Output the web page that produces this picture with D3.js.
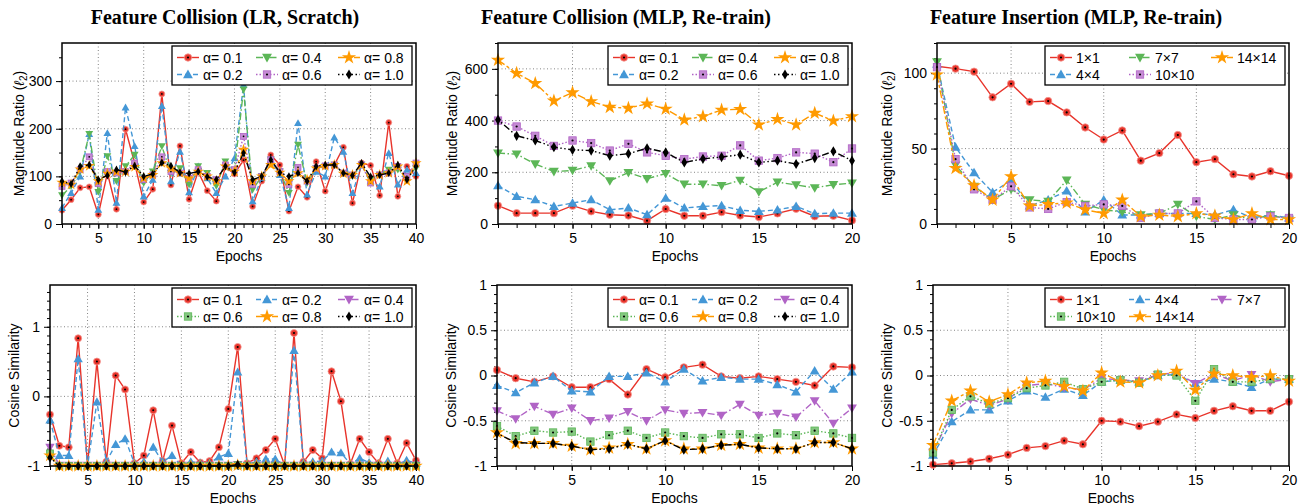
<!DOCTYPE html>
<html><head><meta charset="utf-8">
<script src="https://cdn.jsdelivr.net/npm/d3@7"></script>
<style>body{margin:0;background:#fff}</style>
</head><body>
<svg id="c" width="1306" height="504"></svg>
<script>
// ---------------- DATA ----------------
const epochs40 = d3.range(1, 41);
const epochs20 = d3.range(1, 21);
const alphaLabels = ["α= 0.1","α= 0.2","α= 0.4","α= 0.6","α= 0.8","α= 1.0"];
const patchLabels = ["1×1","4×4","7×7","10×10","14×14"];
const titles = ["Feature Collision (LR, Scratch)","Feature Collision (MLP, Re-train)","Feature Insertion (MLP, Re-train)"];
const xLabel = "Epochs";
const yLabelCos = "Cosine Similarity";

// Top-left: magnitude ratio, LR scratch
const lrMag01 = [29,51,76,78,20,107,31,199,128,46,73,273,82,164,52,110,70,48,120,105,134,37,90,145,124,27,78,56,131,69,124,161,44,128,123,60,213,58,121,100];
const lrMag02 = [34,65,100,189,30,191,45,245,164,58,93,248,90,152,67,121,96,65,100,138,292,48,97,135,103,34,212,62,110,100,182,152,65,124,90,79,149,83,114,107];
const lrMag04 = [60,79,110,189,67,142,90,121,145,86,110,163,107,117,83,121,107,80,131,114,282,72,100,135,110,65,166,86,117,121,124,107,100,124,93,103,114,114,100,117];
const lrMag06 = [79,86,114,141,85,110,107,110,128,93,103,141,110,107,96,114,100,93,124,114,184,83,100,135,110,83,119,90,117,122,124,107,103,124,86,103,107,121,100,128];
const lrMag08 = [87,83,115,122,90,106,110,110,120,96,103,128,117,107,96,110,100,90,121,110,156,90,100,124,108,90,107,93,117,122,124,106,103,124,90,103,107,121,90,128];
const lrMag10 = [90,84,121,124,93,102,114,109,122,100,105,129,122,108,106,110,99,93,121,108,149,93,100,135,108,100,107,90,121,124,124,107,102,128,99,103,107,124,93,121];

// Top-middle: magnitude ratio, MLP re-train
const mlpMag01 = [71,42,42,42,71,49,36,33,13,58,32,32,46,33,27,41,59,30,32,14];
const mlpMag02 = [148,107,94,68,81,94,55,62,36,100,62,68,71,53,49,55,68,40,42,42];
const mlpMag04 = [274,270,232,203,207,225,167,199,175,195,154,154,148,169,124,162,151,140,152,158];
const mlpMag06 = [400,377,341,302,323,313,284,310,277,264,251,261,264,304,245,255,277,272,239,292];
const mlpMag08 = [634,583,544,476,508,474,452,448,465,445,403,416,441,444,384,405,384,429,399,416];
const mlpMag10 = [403,341,323,297,287,284,264,272,293,277,238,252,259,268,238,245,232,255,281,245];

// Top-right: magnitude ratio, insertion
const insMag1  = [104.6,103,101,84,93,81,81.5,74,64,56,62,42,47,59,41,43,33,31.5,35,32];
const insMag4  = [106,51,34,21,29,12,16,22,8,16,6,6,7,7,7,6,9.5,4,6,4];
const insMag7  = [107.5,39,25,16,23,16,15,29,13,9.5,8,6,7,13,5,3,6,3,6,3];
const insMag10 = [104,43,23,16,25,11,10,14.5,12,13,12,4,7,7,15,4,3,3,5,4];
const insMag14 = [99,37,25.5,16,31.5,12,13,14,9.5,7,16,5,6,5,7,5.5,3,7,3,3];

// Bottom-left: cosine similarity, LR scratch
const lrCos01 = [-0.26,-0.71,-0.73,0.835,-0.99,0.50,-0.94,0.30,0.10,-0.96,-0.85,-0.20,-0.93,-0.42,-0.96,-0.80,-0.95,-0.93,-0.73,-0.18,0.71,-0.96,-0.89,-0.77,-0.61,-0.99,0.91,-0.94,-0.77,-0.89,0.36,-0.07,-0.97,-0.61,-0.80,-0.96,-0.61,-0.96,-0.67,-0.92];
const lrCos02 = [-0.34,-0.85,-0.85,0.54,-1,-0.08,-0.94,-0.69,-0.61,-0.96,-0.94,-0.73,-0.94,-0.85,-0.99,-0.94,-0.96,-0.96,-0.87,-0.82,0.35,-0.97,-0.94,-0.90,-0.90,-0.99,0.66,-0.95,-0.94,-0.93,-0.80,-0.81,-0.97,-0.89,-0.95,-0.97,-0.93,-0.98,-0.92,-0.96];
const lrCos04 = [-0.73,-0.99,-0.99,-0.99,-0.99,-0.99,-0.99,-0.99,-0.99,-0.99,-0.99,-0.99,-0.99,-0.99,-0.99,-0.99,-0.99,-0.99,-0.99,-0.99,-0.98,-0.99,-0.99,-0.99,-0.99,-0.99,-0.99,-0.99,-0.99,-0.99,-0.99,-0.99,-0.99,-0.99,-0.99,-0.99,-0.99,-0.99,-0.99,-0.99];
const lrCos06 = [-0.82,-1,-1,-1,-1,-1,-1,-1,-1,-1,-1,-1,-1,-1,-1,-1,-1,-1,-1,-1,-0.99,-1,-1,-1,-1,-1,-1,-1,-1,-1,-1,-1,-1,-1,-1,-1,-1,-1,-1,-1];
const lrCos08 = [-0.85,-1,-1,-1,-1,-1,-1,-1,-1,-1,-1,-1,-1,-1,-1,-1,-1,-1,-1,-1,-0.99,-1,-1,-1,-1,-1,-1,-1,-1,-1,-1,-1,-1,-1,-1,-1,-1,-1,-1,-1];
const lrCos10 = [-0.88,-1,-1,-1,-1,-1,-1,-1,-1,-1,-1,-1,-1,-1,-1,-1,-1,-1,-1,-1,-0.98,-1,-1,-1,-1,-1,-1,-1,-1,-1,-1,-1,-1,-1,-1,-1,-1,-1,-1,-1];

// Bottom-middle: cosine similarity, MLP re-train
const mlpCos01 = [0.06,-0.03,-0.07,-0.01,-0.13,-0.13,-0.04,-0.21,0.07,-0.02,0.09,0.12,-0.01,-0.03,-0.01,-0.04,-0.07,-0.11,0.10,0.09];
const mlpCos02 = [-0.11,-0.19,-0.08,-0.01,-0.17,-0.18,-0.01,-0.01,0.03,-0.07,0.07,-0.06,-0.02,-0.04,-0.04,-0.10,-0.18,0.05,-0.15,0.04];
const mlpCos04 = [-0.39,-0.48,-0.34,-0.43,-0.36,-0.50,-0.47,-0.40,-0.50,-0.38,-0.42,-0.41,-0.44,-0.32,-0.44,-0.42,-0.46,-0.28,-0.53,-0.36];
const mlpCos06 = [-0.56,-0.67,-0.61,-0.63,-0.62,-0.73,-0.66,-0.61,-0.69,-0.63,-0.67,-0.69,-0.65,-0.65,-0.69,-0.64,-0.66,-0.61,-0.64,-0.69];
const mlpCos08 = [-0.63,-0.75,-0.75,-0.75,-0.78,-0.82,-0.80,-0.76,-0.81,-0.72,-0.81,-0.81,-0.77,-0.76,-0.80,-0.81,-0.81,-0.74,-0.74,-0.81];
const mlpCos10 = [-0.64,-0.74,-0.75,-0.75,-0.78,-0.82,-0.81,-0.76,-0.81,-0.72,-0.82,-0.81,-0.77,-0.76,-0.80,-0.81,-0.81,-0.74,-0.74,-0.81];

// Bottom-right: cosine similarity, insertion
const insCos1  = [-0.985,-0.97,-0.95,-0.92,-0.875,-0.80,-0.78,-0.72,-0.76,-0.50,-0.51,-0.56,-0.51,-0.43,-0.47,-0.39,-0.34,-0.39,-0.39,-0.29];
const insCos4  = [-0.88,-0.51,-0.38,-0.38,-0.28,-0.17,-0.24,-0.15,-0.22,-0.07,-0.05,-0.07,0,0.01,-0.09,-0.04,-0.07,-0.13,-0.04,-0.04];
const insCos7  = [-0.85,-0.42,-0.26,-0.33,-0.26,-0.11,-0.09,-0.13,-0.16,-0.03,-0.05,-0.06,0.01,0.03,-0.09,0.02,-0.06,0.01,-0.07,-0.04];
const insCos10 = [-0.85,-0.38,-0.23,-0.31,-0.25,-0.14,-0.11,-0.07,-0.15,-0.07,-0.05,-0.08,0.01,0,-0.28,0.07,-0.07,-0.07,-0.04,-0.04];
const insCos14 = [-0.77,-0.28,-0.17,-0.29,-0.21,-0.08,-0.06,-0.12,-0.17,0.03,-0.07,-0.08,0,0.05,-0.16,0.02,0,-0.02,0,-0.06];

// tick values
const xMajor40 = [5,10,15,20,25,30,35,40];
const xMajor20 = [5,10,15,20];
const yTicksLrMag = [0,100,200,300];
const yTicksMlpMag = [0,200,400,600];
const yTicksInsMag = [0,50,100];
const yTicksLrCos = [-1,0,1];
const yTicksCos = [-1,-0.5,0,0.5,1];

// ---------------- STYLE ----------------
const FONT = "'Liberation Sans', Arial, Helvetica, sans-serif";
const COL = {red:"#e8342b", blue:"#4497d6", green:"#5cb657", purple:"#b164c6", orange:"#ff9a00", black:"#000000"};
const LS = {
  circle:  null,
  triangle:"5,3",
  tdown:   "7,2.5,1.5,2.5",
  square:  "1.5,2",
  star:    "8,2.5,3,2.5",
  diamond: "1.5,2.5,1.5,2.5,7,2.5"
};
const sTop = [
  {c:COL.red,m:"circle"},{c:COL.blue,m:"triangle"},{c:COL.green,m:"tdown"},
  {c:COL.purple,m:"square"},{c:COL.orange,m:"star"},{c:COL.black,m:"diamond"}];
const sBot = [
  {c:COL.red,m:"circle"},{c:COL.blue,m:"triangle"},{c:COL.purple,m:"tdown"},
  {c:COL.green,m:"square"},{c:COL.orange,m:"star"},{c:COL.black,m:"diamond"}];

const svg = d3.select("#c");

function marker(g, kind, color, x, y, s) {
  if (kind === "circle") {
    g.append("circle").attr("cx",x).attr("cy",y).attr("r",3.7*s).attr("fill",color).attr("stroke","#f59a94").attr("stroke-width",0.8);
    g.append("circle").attr("cx",x).attr("cy",y).attr("r",1.1*s).attr("fill","#000");
  } else if (kind === "triangle") {
    g.append("path").attr("d",d3.symbol(d3.symbolTriangle, 42*s*s)()).attr("transform",`translate(${x},${y+0.8})`).attr("fill",color);
  } else if (kind === "tdown") {
    g.append("path").attr("d",d3.symbol(d3.symbolTriangle, 42*s*s)()).attr("transform",`translate(${x},${y-0.8}) rotate(180)`).attr("fill",color);
  } else if (kind === "square") {
    const a = 7.4*s;
    const lite = d3.interpolateRgb(color, "#fff")(0.25);
    g.append("rect").attr("x",x-a/2).attr("y",y-a/2).attr("width",a).attr("height",a).attr("fill",lite).attr("stroke",color).attr("stroke-width",0.8);
    g.append("circle").attr("cx",x).attr("cy",y).attr("r",1.1*s).attr("fill","#000");
  } else if (kind === "star") {
    g.append("path").attr("d",d3.symbol(d3.symbolStar, 62*s*s)()).attr("transform",`translate(${x},${y})`).attr("fill",color);
  } else if (kind === "diamond") {
    g.append("path").attr("d",d3.symbol(d3.symbolDiamond, 30*s*s)()).attr("transform",`translate(${x},${y})`).attr("fill",color);
  }
}

const panels = [
  {x0:62,x1:416,y0:43,y1:224, xs:epochs40, xMajor:xMajor40, ydom:[0,380], yMajor:yTicksLrMag, yMinorStep:50, ylab:"mag", ylx:24,
   vals:[lrMag01,lrMag02,lrMag04,lrMag06,lrMag08,lrMag10], styles:sTop, labels:alphaLabels, order:"col", ms:0.8, title:titles[0], tx:225},
  {x0:498,x1:852,y0:43,y1:224, xs:epochs20, xMajor:xMajor20, ydom:[0,700], yMajor:yTicksMlpMag, yMinorStep:100, ylab:"mag", ylx:457,
   vals:[mlpMag01,mlpMag02,mlpMag04,mlpMag06,mlpMag08,mlpMag10], styles:sTop, labels:alphaLabels, order:"col", ms:1, title:titles[1], tx:626},
  {x0:937,x1:1289,y0:43,y1:224, xs:epochs20, xMajor:xMajor20, ydom:[0,120], yMajor:yTicksInsMag, yMinorStep:10, ylab:"mag", ylx:892,
   vals:[insMag1,insMag4,insMag7,insMag10,insMag14], styles:sTop.slice(0,5), labels:patchLabels, order:"col", ms:1, title:titles[2], tx:1076},
  {x0:50,x1:416,y0:285,y1:466, xs:epochs40, xMajor:xMajor40, ydom:[-1,1.6], yMajor:yTicksLrCos, yMinorStep:0.125, ylab:"cos", ylx:19,
   vals:[lrCos01,lrCos02,lrCos04,lrCos06,lrCos08,lrCos10], styles:sBot, labels:alphaLabels, order:"row", ms:0.95},
  {x0:497,x1:852,y0:285,y1:466, xs:epochs20, xMajor:xMajor20, ydom:[-1,1], yMajor:yTicksCos, yMinorStep:0.1, ylab:"cos", ylx:456,
   vals:[mlpCos01,mlpCos02,mlpCos04,mlpCos06,mlpCos08,mlpCos10], styles:sBot, labels:alphaLabels, order:"row", ms:1},
  {x0:933,x1:1289,y0:285,y1:466, xs:epochs20, xMajor:xMajor20, ydom:[-1,1], yMajor:yTicksCos, yMinorStep:0.1, ylab:"cos", ylx:892,
   vals:[insCos1,insCos4,insCos7,insCos10,insCos14], styles:sBot.slice(0,5), labels:patchLabels, order:"row", ms:1}
];

panels.forEach(p => {
  const x = d3.scaleLinear().domain([p.xs[0], p.xs[p.xs.length-1]]).range([p.x0, p.x1]);
  const y = d3.scaleLinear().domain(p.ydom).range([p.y1, p.y0]);
  const g = svg.append("g");

  // grid
  g.selectAll(null).data(p.xMajor.filter(v => v < x.domain()[1])).join("line")
    .attr("x1", d => x(d)).attr("x2", d => x(d)).attr("y1", p.y0).attr("y2", p.y1)
    .attr("stroke", "#777").attr("stroke-width", 0.9).attr("stroke-dasharray", "1,2.5");
  g.selectAll(null).data(p.yMajor.filter(v => v > p.ydom[0] && v < p.ydom[1])).join("line")
    .attr("x1", p.x0).attr("x2", p.x1).attr("y1", d => y(d)).attr("y2", d => y(d))
    .attr("stroke", "#777").attr("stroke-width", 0.9).attr("stroke-dasharray", "1,2.5");

  // minor ticks
  const nMinor = Math.round((p.ydom[1]-p.ydom[0])/p.yMinorStep);
  const yMinor = d3.range(0, nMinor+1).map(i => +(p.ydom[0] + i*p.yMinorStep).toFixed(4)).filter(v => v <= p.ydom[1]);
  const axYm = g.append("g").attr("transform",`translate(${p.x0},0)`)
    .call(d3.axisLeft(y).tickValues(yMinor).tickSize(3).tickFormat(""));
  axYm.select(".domain").remove();
  const axXm = g.append("g").attr("transform",`translate(0,${p.y1})`)
    .call(d3.axisBottom(x).tickValues(p.xs).tickSize(4).tickFormat(""));
  axXm.select(".domain").remove();

  // major axes
  const axY = g.append("g").attr("transform",`translate(${p.x0},0)`)
    .call(d3.axisLeft(y).tickValues(p.yMajor).tickSize(6).tickPadding(4).tickFormat(d => String(d)));
  axY.select(".domain").remove();
  axY.selectAll("text").attr("font-size",14).attr("font-family",FONT).attr("fill","#000");
  const axX = g.append("g").attr("transform",`translate(0,${p.y1})`)
    .call(d3.axisBottom(x).tickValues(p.xMajor).tickSize(5).tickPadding(4).tickFormat(d3.format("d")));
  axX.select(".domain").remove();
  axX.selectAll("text").attr("font-size",14).attr("font-family",FONT).attr("fill","#000");
  g.selectAll(".tick line").attr("stroke","#000").attr("stroke-width",1);

  // series
  p.vals.forEach((vals, i) => {
    const st = p.styles[i];
    const line = d3.line().x((d, k) => x(p.xs[k])).y(d => y(d));
    g.append("path").datum(vals).attr("d", line).attr("fill","none")
      .attr("stroke", st.c).attr("stroke-width", 1.4)
      .attr("stroke-dasharray", LS[st.m]);
    const mg = g.append("g");
    vals.forEach((v, k) => marker(mg, st.m, st.c, x(p.xs[k]), y(v), p.ms));
  });

  // frame
  g.append("rect").attr("x",p.x0).attr("y",p.y0).attr("width",p.x1-p.x0).attr("height",p.y1-p.y0)
    .attr("fill","none").attr("stroke","#000").attr("stroke-width",1.5);

  // legend
  const lx = p.x1 - 244, ly = p.y0 + 3;
  const lg = g.append("g");
  lg.append("rect").attr("x",lx).attr("y",ly).attr("width",240).attr("height",39)
    .attr("fill","#fff").attr("stroke","#000").attr("stroke-width",1.3);
  const colX = [5, 84, 166];
  p.labels.forEach((lab, i) => {
    const st = p.styles[i];
    const col = p.order === "col" ? Math.floor(i/2) : i % 3;
    const row = p.order === "col" ? i % 2 : Math.floor(i/3);
    const sx = lx + colX[col], sy = ly + 11.5 + row*17;
    lg.append("line").attr("x1",sx).attr("x2",sx+22).attr("y1",sy).attr("y2",sy)
      .attr("stroke",st.c).attr("stroke-width",1.4).attr("stroke-dasharray",LS[st.m]);
    marker(lg, st.m, st.c, sx+11, sy, 1);
    lg.append("text").attr("x",sx+26).attr("y",sy).attr("dy","0.36em")
      .attr("font-size",14).attr("font-family",FONT).text(lab);
  });

  // axis labels
  g.append("text").attr("x",(p.x0+p.x1)/2).attr("y",p.y1+37).attr("text-anchor","middle")
    .attr("font-size",14).attr("font-family",FONT).text(xLabel);
  const yl = g.append("text").attr("transform",`translate(${p.ylx},${(p.y0+p.y1)/2}) rotate(-90)`)
    .attr("text-anchor","middle").attr("font-size",14).attr("font-family",FONT);
  if (p.ylab === "mag") {
    yl.append("tspan").text("Magnitude Ratio (");
    yl.append("tspan").attr("font-style","italic").text("ℓ");
    yl.append("tspan").attr("font-size",10).attr("dy",3).text("2");
    yl.append("tspan").attr("dy",-3).text(")");
  } else {
    yl.text(yLabelCos);
  }

  if (p.title) {
    svg.append("text").attr("x",p.tx).attr("y",24).attr("text-anchor","middle")
      .attr("font-family","'Liberation Serif','Times New Roman',serif").attr("font-weight","bold")
      .attr("font-size",20).text(p.title);
  }
});
</script>
</body></html>
